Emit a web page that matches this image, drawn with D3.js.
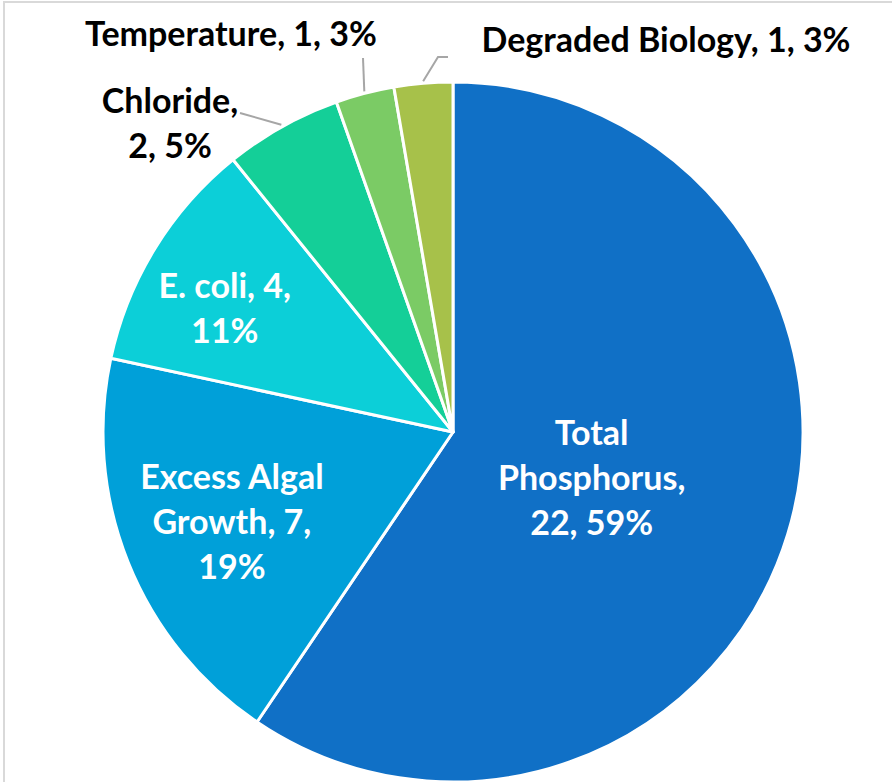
<!DOCTYPE html>
<html>
<head>
<meta charset="utf-8">
<script src="https://cdn.jsdelivr.net/npm/d3@7"></script>
<style>
  html, body { margin: 0; padding: 0; background: #fff; }
  svg { display: block; }
</style>
</head>
<body>
<svg id="chart" width="892" height="782"></svg>
<script>
// chart data
const categories = ['Total Phosphorus', 'Excess Algal Growth', 'E. coli', 'Chloride', 'Temperature', 'Degraded Biology'];
const counts = [22, 7, 4, 2, 1, 1];
const colors = ['#1070c6', '#00a0d9', '#0ccfd8', '#14cf98', '#7bcb65', '#a7c14a'];

// how each label is laid out (line breaks, where it sits, inside or outside)
const labelLines = [
  ['Total', 'Phosphorus,', '{v}, {p}%'],
  ['Excess Algal', 'Growth, {v},', '{p}%'],
  ['E. coli, {v},', '{p}%'],
  ['Chloride,', '{v}, {p}%'],
  ['Temperature, {v}, {p}%'],
  ['Degraded Biology, {v}, {p}%']
];
const labelAnchors = [
  { r: 145, dx: 0, dy: 4 },
  { r: 234, dx: -4, dy: 3 },
  { r: 254, dx: -12, dy: 10 },
  { x: 170, y: 113, line: [[240, 113]] },
  { x: 231, y: 46, line: [[363, 58]] },
  { x: 666, y: 52, line: [[448, 57], [438, 57]] }
];

const width = 892;
const height = 782;
const cx = 453;
const cy = 432;
const radius = 350;
const lineHeight = 45;
const fontSize = 34;

const svg = d3.select('#chart');

// frame of the chart area
svg.append('rect')
  .attr('x', 4)
  .attr('y', 2)
  .attr('width', 1000)
  .attr('height', 1000)
  .attr('fill', '#fff')
  .attr('stroke', '#d9d9d9')
  .attr('stroke-width', 2);

const total = d3.sum(counts);
const slices = d3.pie()
  .sort(null)
  .value(d => d)(counts);

const arc = d3.arc().innerRadius(0).outerRadius(radius);

const g = svg.append('g').attr('transform', `translate(${cx},${cy})`);

g.selectAll('path.slice')
  .data(slices)
  .join('path')
  .attr('class', 'slice')
  .attr('d', arc)
  .attr('fill', (d, i) => colors[i])
  .attr('stroke', '#fff')
  .attr('stroke-width', 3)
  .attr('stroke-linejoin', 'round');

function fillText(s, i) {
  const p = Math.round(counts[i] / total * 100);
  return s.replace('{v}', counts[i]).replace('{p}', p);
}

slices.forEach((d, i) => {
  const a = labelAnchors[i];
  const lines = labelLines[i].map(s => fillText(s, i));
  const mid = (d.startAngle + d.endAngle) / 2;
  let x, y0, fill;
  if (a.r !== undefined) {
    // inside label, centred on the slice's mid angle
    x = cx + a.r * Math.sin(mid) + a.dx;
    const ly = cy - a.r * Math.cos(mid) + a.dy;
    y0 = ly - (lines.length - 1) * lineHeight / 2 + 12;
    fill = '#fff';
  } else {
    x = a.x;
    y0 = a.y;
    fill = '#000';
    // leader line from the label to the rim
    const edge = [cx + (radius + 2) * Math.sin(mid), cy - (radius + 2) * Math.cos(mid)];
    const pts = a.line.concat([edge]);
    svg.append('path')
      .attr('d', d3.line()(pts))
      .attr('fill', 'none')
      .attr('stroke', '#a6a6a6')
      .attr('stroke-width', 2);
  }
  const t = svg.append('text')
    .attr('x', x)
    .attr('y', y0)
    .attr('text-anchor', 'middle')
    .attr('font-family', 'Lato, "Open Sans", sans-serif')
    .attr('font-weight', 'bold')
    .attr('font-size', fontSize)
    .attr('fill', fill);
  lines.forEach((s, k) => {
    t.append('tspan')
      .attr('x', x)
      .attr('y', y0 + k * lineHeight)
      .text(s);
  });
});
</script>
</body>
</html>
